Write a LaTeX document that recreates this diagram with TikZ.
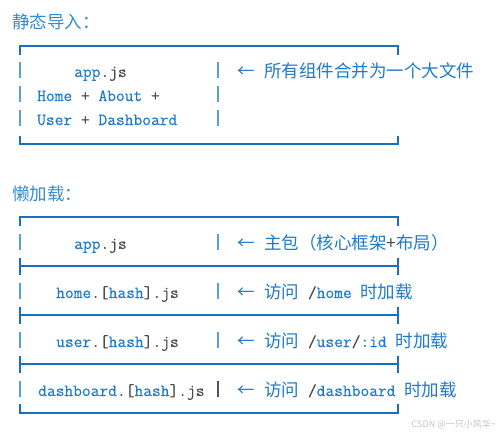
\documentclass[tikz,border=0pt]{standalone}
\usepackage{fontspec}
\usepackage{xcolor}
\usepackage{tikz}
\usetikzlibrary{positioning}
\newfontfamily\cjk{Noto Sans CJK SC}
\newfontfamily\codett[FakeBold=0.5]{Latin Modern Mono}
\definecolor{codeblue}{RGB}{30, 122, 204}
\definecolor{titleblue}{RGB}{52, 140, 210}
\definecolor{lineblue}{RGB}{25, 112, 192}
\definecolor{barblue}{RGB}{88, 160, 216}
\definecolor{punctgray}{RGB}{75, 75, 75}
\definecolor{cursorgray}{RGB}{85, 85, 85}
\definecolor{markgray}{RGB}{195, 195, 195}
\newcommand{\pn}[1]{\textcolor{punctgray}{#1}}

\begin{document}
\begin{tikzpicture}[x=1pt, y=-1pt,
  title/.style={font=\fontsize{17.5}{20}\selectfont\cjk, text=titleblue, anchor=base west, inner sep=0pt},
  code/.style={font=\fontsize{17}{20}\selectfont\codett, text=codeblue, anchor=base west, inner sep=0pt},
  note/.style={font=\fontsize{17.5}{20}\selectfont\cjk, text=codeblue, anchor=base west, inner sep=0pt},
  hline/.style={lineblue, line width=1.6pt},
  bar/.style={barblue, line width=2pt}]
\useasboundingbox (0,0) rectangle (500,434);

% Static import
\node[title] (t1) at (12,28) {静态导入：};

\draw[hline] (20,55) -- (20,46) -- (398,46) -- (398,55);
\draw[hline] (20,136) -- (20,144) -- (398,144) -- (398,136);
\foreach \b in {77,101,125} {
  \draw[bar] (20,\b-15) -- (20,\b+1);
  \draw[bar] (218,\b-15) -- (218,\b+1);
}

\node[code] (app1) at (74,77) {app\pn{.js}};
\node[code] (home1) at (37,101) {Home \pn{+} About \pn{+}};
\node[code] (user1) at (37,125) {User \pn{+} Dashboard};

\node[note] (ar1) at (237,77) {←};
\node[note] (n1) at (264,77) {所有组件合并为一个大文件};

% Lazy loading
\node[title] (t2) at (12,200) {懒加载：};

\draw[hline] (20,226) -- (20,217) -- (398,217) -- (398,226);
\foreach \s in {266,315,364} {
  \draw[hline] (20,\s) -- (398,\s);
  \draw[hline] (20,\s-8) -- (20,\s+9);
  \draw[hline] (398,\s-8) -- (398,\s+9);
}
\draw[hline] (20,404) -- (20,413) -- (398,413) -- (398,404);
\foreach \b in {249,298,347,396} {
  \draw[bar] (20,\b-15) -- (20,\b+1);
}
\foreach \b in {249,298,347} {
  \draw[bar] (218,\b-15) -- (218,\b+1);
}
\draw[cursorgray, line width=2pt] (218,381) -- (218,397);

\node[code] (app2) at (74,249) {app\pn{.js}};
\node[code] (home2) at (56,298) {home\pn{.[}hash\pn{].js}};
\node[code] (user2) at (56,347) {user\pn{.[}hash\pn{].js}};
\node[code] (dash2) at (38,396) {dashboard\pn{.[}hash\pn{].js}};

\node[note] (ar2) at (237,249) {←};
\node[note] (n2) at (264,249) {主包（核心框架\pn{+}布局）};
\node[note] (ar3) at (237,298) {←};
\node[note] (n3) at (264,298) {访问{\codett\fontsize{17}{20}\selectfont{} \pn{/}home }时加载};
\node[note] (ar4) at (237,347) {←};
\node[note] (n4) at (264,347) {访问{\codett\fontsize{17}{20}\selectfont{} \pn{/}user\pn{/}:id }时加载};
\node[note] (ar5) at (237,396) {←};
\node[note] (n5) at (264,396) {访问{\codett\fontsize{17}{20}\selectfont{} \pn{/}dashboard }时加载};

% Watermark
\node[font=\fontsize{9}{10}\selectfont\cjk, text=markgray, anchor=base east, inner sep=0pt] (mark) at (496,427) {CSDN @一只小风华\textasciitilde};
\end{tikzpicture}
\end{document}
